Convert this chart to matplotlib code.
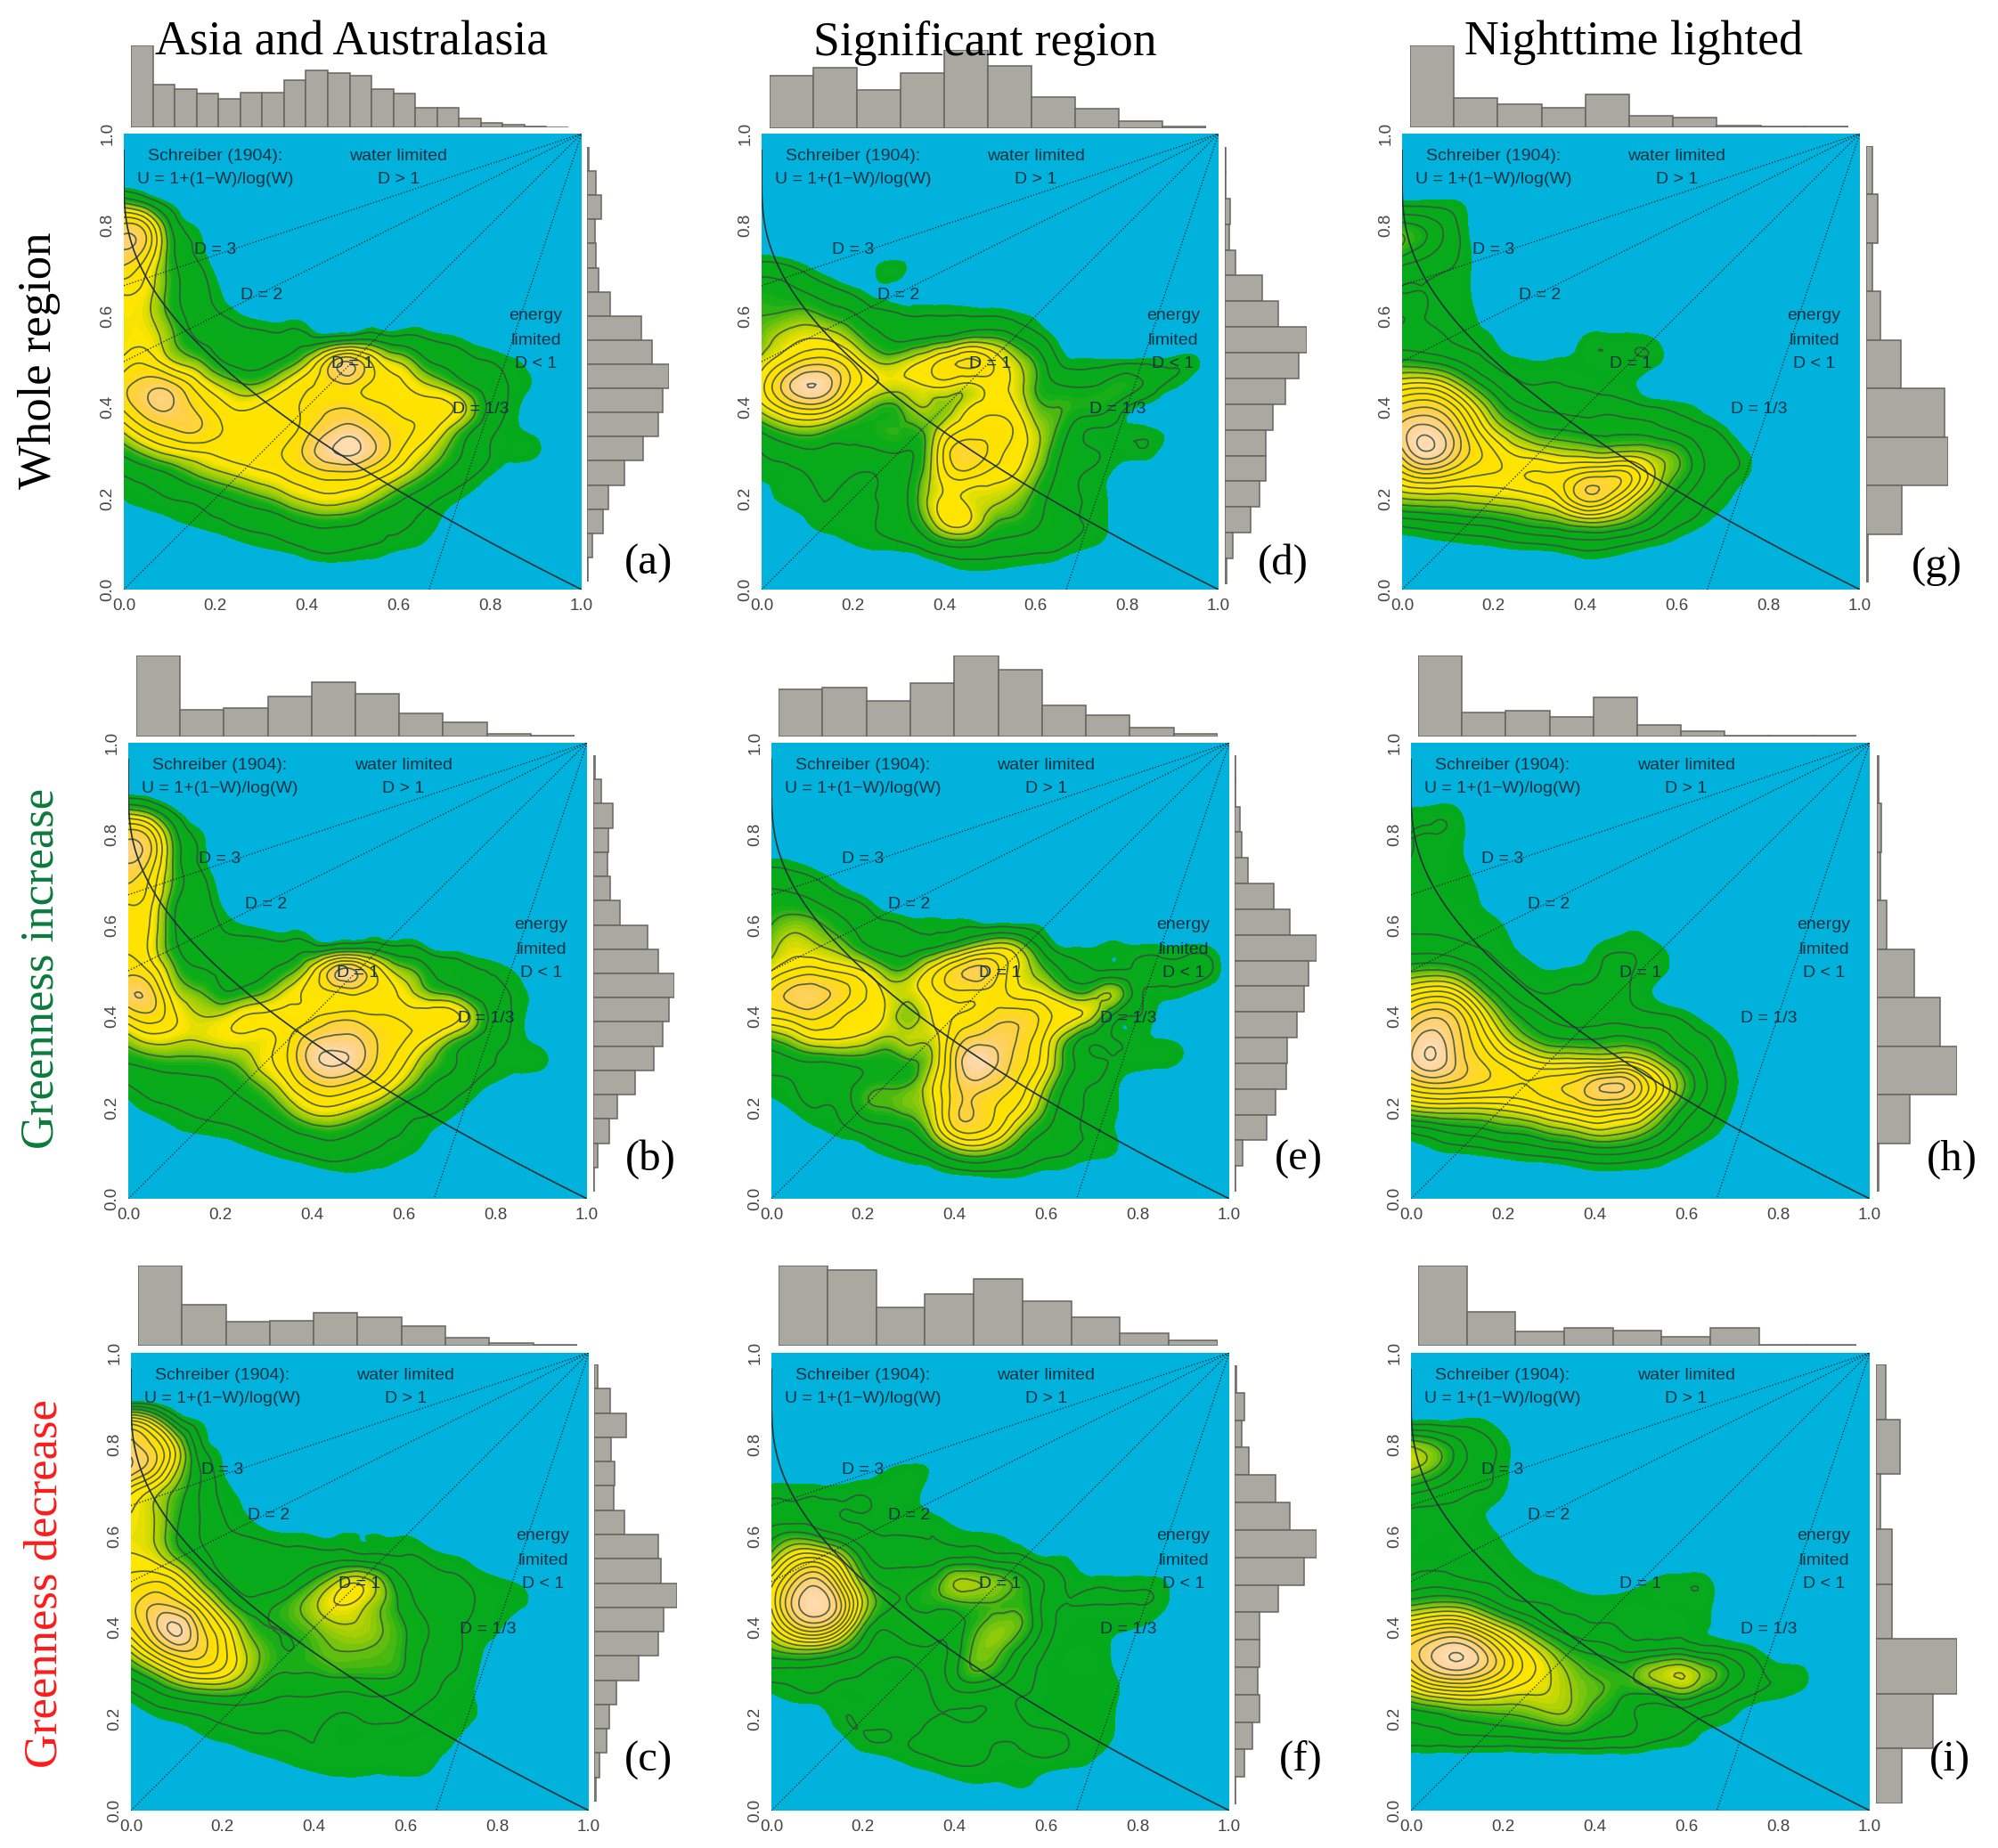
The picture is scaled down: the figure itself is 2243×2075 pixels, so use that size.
import numpy as np
import matplotlib
matplotlib.use("Agg")
import matplotlib.pyplot as plt
import matplotlib.tri as mtri
from matplotlib.colors import LinearSegmentedColormap

W, H = 2243, 2075

col_titles = ["Asia and Australasia", "Significant region", "Nighttime lighted"]
row_titles = ["Whole region", "Greenness increase", "Greenness decrease"]
row_colors = ["black", "#0b7a3b", "#ff1a1a"]
d_values = [3, 2, 1, 1 / 3]

# density, rows y=.90 down to .05, cols x=0 to .95 step .05
density = {}
density["a"] = [
[0]*20,
[30,18,5,0,0,0,0,0,0,0,0,0,0,0,0,0,0,0,0,0],
[78,65,22,6,0,0,0,0,0,0,0,0,0,0,0,0,0,0,0,0],
[88,72,28,10,2,0,0,0,0,0,0,0,0,0,0,0,0,0,0,0],
[72,55,28,14,5,0,0,0,0,0,0,0,0,0,0,0,0,0,0,0],
[55,48,28,16,8,2,0,0,0,0,0,0,0,0,0,0,0,0,0,0],
[50,46,30,18,12,7,4,4,4,3,3,3,3,2,0,0,0,0,0,0],
[48,50,36,22,18,14,13,13,14,14,18,18,13,11,8,5,2,0,0,0],
[58,62,46,36,24,18,18,24,40,72,84,58,42,26,18,12,10,7,3,0],
[72,82,80,62,44,34,34,48,62,70,74,62,56,46,36,22,14,9,5,0],
[68,84,88,76,62,52,56,62,68,74,74,68,62,60,58,42,18,8,2,0],
[46,64,74,78,68,62,62,60,72,86,92,80,70,62,46,26,12,7,4,0],
[24,36,46,52,56,60,62,66,80,96,100,86,66,48,32,18,10,8,7,0],
[10,14,20,30,38,44,50,56,64,70,70,60,46,32,20,12,6,2,0,0],
[6,8,10,12,18,24,30,38,46,50,46,36,24,15,9,5,1,0,0,0],
[2,3,5,7,9,12,14,18,24,26,24,16,12,9,5,1,0,0,0,0],
[0,0,0,1,3,5,7,9,12,14,12,10,8,6,2,0,0,0,0,0],
[0,0,0,0,0,0,0,0,3,4,4,3,0,0,0,0,0,0,0,0]]
density["d"] = [
[0]*20,
[0]*20,
[0]*20,
[2,1,0,0,0,0,0,0,0,0,0,0,0,0,0,0,0,0,0,0],
[16,14,8,3,0,6,8,0,0,0,0,0,0,0,0,0,0,0,0,0],
[26,24,20,14,9,5,3,0,0,0,0,0,0,0,0,0,0,0,0,0],
[30,32,34,28,22,14,11,10,10,10,10,8,5,0,0,0,0,0,0,0],
[34,44,50,48,36,24,18,20,24,32,32,24,14,5,2,1,1,0,0,0],
[44,60,74,74,58,40,40,50,64,72,62,44,28,10,7,7,8,8,8,7],
[56,84,100,92,66,50,46,50,54,48,54,48,30,20,18,22,26,16,8,2],
[46,64,74,66,44,30,30,40,36,48,56,52,34,30,26,24,10,4,0,0],
[22,32,36,30,24,26,28,30,48,62,66,60,42,28,12,9,8,7,3,0],
[10,14,18,18,18,18,20,26,62,78,68,56,42,22,12,9,8,8,0,0],
[7,8,10,14,10,10,14,30,56,64,56,50,34,18,10,7,2,0,0,0],
[1,8,9,10,8,10,14,34,52,48,44,38,26,15,10,7,0,0,0,0],
[0,0,6,9,9,10,14,28,52,52,34,28,22,14,10,7,0,0,0,0],
[0,0,1,3,6,8,9,13,22,24,18,16,14,12,8,5,0,0,0,0],
[0,0,0,0,0,0,0,2,5,7,7,6,5,3,0,0,0,0,0,0]]
density["g"] = [
[0]*20,
[7,7,7,4,0,0,0,0,0,0,0,0,0,0,0,0,0,0,0,0],
[26,22,14,5,0,0,0,0,0,0,0,0,0,0,0,0,0,0,0,0],
[30,22,14,6,0,0,0,0,0,0,0,0,0,0,0,0,0,0,0,0],
[14,12,10,6,0,0,0,0,0,0,0,0,0,0,0,0,0,0,0,0],
[10,10,9,6,0,0,0,0,0,0,0,0,0,0,0,0,0,0,0,0],
[10,10,9,7,2,0,0,0,0,0,0,0,0,0,0,0,0,0,0,0],
[12,12,10,8,6,1,0,1,7,8,8,6,0,0,0,0,0,0,0,0],
[26,24,20,14,9,7,6,7,8,9,9,8,1,0,0,0,0,0,0,0],
[52,54,46,30,18,11,10,10,9,8,7,2,0,0,0,0,0,0,0,0],
[76,80,72,52,32,20,16,15,14,14,12,10,8,5,0,0,0,0,0,0],
[90,98,88,66,46,34,26,24,22,22,22,20,16,12,8,0,0,0,0,0],
[84,100,90,72,60,50,46,42,40,38,40,36,30,18,12,7,0,0,0,0],
[62,70,66,60,58,58,60,62,70,72,66,46,30,18,11,7,0,0,0,0],
[38,40,40,42,44,46,50,60,76,70,52,34,20,12,8,2,0,0,0,0],
[14,16,18,20,22,26,30,34,40,38,30,20,12,8,3,0,0,0,0,0],
[3,4,5,6,7,9,10,12,14,13,10,7,4,0,0,0,0,0,0,0],
[0,0,0,0,0,0,0,0,3,3,2,0,0,0,0,0,0,0,0,0]]
density["b"] = [
[0]*20,
[36,26,8,0,0,0,0,0,0,0,0,0,0,0,0,0,0,0,0,0],
[82,68,26,8,0,0,0,0,0,0,0,0,0,0,0,0,0,0,0,0],
[90,74,30,10,0,0,0,0,0,0,0,0,0,0,0,0,0,0,0,0],
[78,62,30,14,3,0,0,0,0,0,0,0,0,0,0,0,0,0,0,0],
[66,56,24,14,6,0,0,0,0,0,0,0,0,0,0,0,0,0,0,0],
[62,52,22,14,10,6,4,4,4,4,4,4,3,0,0,0,0,0,0,0],
[64,50,24,18,14,14,14,14,15,18,20,16,12,7,4,2,0,0,0,0],
[72,62,34,22,20,18,20,28,50,84,84,56,36,24,16,11,9,5,0,0],
[84,80,46,34,24,26,34,48,58,62,66,60,50,36,30,18,12,8,3,0],
[64,72,56,44,44,54,56,58,62,70,70,66,62,62,60,40,16,8,2,0],
[38,48,46,44,48,50,50,64,84,90,88,74,66,54,36,22,12,8,3,0],
[22,26,28,28,30,36,50,66,92,100,92,72,56,36,24,14,10,9,8,0],
[10,14,16,18,20,26,36,54,72,78,70,58,40,24,16,10,5,2,0,0],
[4,8,10,12,14,18,24,36,50,52,44,32,18,13,9,4,0,0,0,0],
[0,2,5,7,8,10,14,20,26,28,22,14,10,7,3,0,0,0,0,0],
[0,0,0,0,2,4,6,9,12,14,11,9,7,4,0,0,0,0,0,0],
[0,0,0,0,0,0,0,0,2,4,5,4,2,0,0,0,0,0,0,0]]
density["e"] = [
[0]*20,
[0]*20,
[0]*20,
[5,4,1,0,0,0,0,0,0,0,0,0,0,0,0,0,0,0,0,0],
[16,14,10,4,0,0,0,0,0,0,0,0,0,0,0,0,0,0,0,0],
[24,24,20,14,9,2,0,0,0,0,0,0,0,0,0,0,0,0,0,0],
[30,36,32,24,16,12,9,8,8,8,8,7,4,0,0,0,0,0,0,0],
[36,46,42,36,24,18,16,20,30,44,50,36,14,6,6,7,7,7,7,7],
[50,62,64,58,50,34,34,54,74,84,68,46,30,16,11,11,12,12,12,12],
[72,84,84,76,62,48,44,56,66,66,64,54,48,34,34,38,14,8,7,3],
[62,68,72,62,56,48,36,50,60,66,76,76,64,54,42,16,10,4,0,0],
[30,40,50,50,46,38,42,44,70,84,86,76,56,30,14,10,8,6,4,0],
[14,18,20,22,24,24,28,40,78,100,88,72,52,24,12,9,8,8,5,0],
[8,10,12,14,24,28,30,48,76,86,78,64,40,18,10,7,2,0,0,0],
[4,7,10,12,26,30,34,46,76,78,68,54,30,14,9,7,0,0,0,0],
[0,2,5,8,12,16,20,38,68,72,58,34,20,12,9,6,0,0,0,0],
[0,0,0,2,4,7,10,16,30,36,28,18,12,10,8,6,0,0,0,0],
[0,0,0,0,0,0,1,3,5,6,7,6,4,3,0,0,0,0,0,0]]
density["h"] = [
[0]*20,
[7,8,7,0,0,0,0,0,0,0,0,0,0,0,0,0,0,0,0,0],
[10,10,8,2,0,0,0,0,0,0,0,0,0,0,0,0,0,0,0,0],
[10,9,7,3,0,0,0,0,0,0,0,0,0,0,0,0,0,0,0,0],
[9,9,7,5,0,0,0,0,0,0,0,0,0,0,0,0,0,0,0,0],
[9,9,8,6,2,0,0,0,0,0,0,0,0,0,0,0,0,0,0,0],
[9,9,9,8,6,1,0,0,0,3,4,0,0,0,0,0,0,0,0,0],
[14,14,12,10,8,4,1,1,6,9,9,6,0,0,0,0,0,0,0,0],
[30,32,28,18,11,8,6,7,9,12,9,7,0,0,0,0,0,0,0,0],
[56,62,56,36,20,12,10,11,12,12,8,4,0,0,0,0,0,0,0,0],
[78,86,78,56,34,22,16,14,14,14,12,11,8,3,0,0,0,0,0,0],
[90,98,84,66,48,34,26,24,24,26,24,20,14,10,4,0,0,0,0,0],
[92,100,86,74,64,56,50,50,50,52,48,34,22,13,7,0,0,0,0,0],
[72,78,76,72,68,66,70,74,84,88,74,52,30,16,8,1,0,0,0,0],
[42,46,46,46,48,52,58,64,70,68,60,40,22,13,6,0,0,0,0,0],
[12,16,20,22,26,28,34,38,44,42,36,24,14,9,3,0,0,0,0,0],
[3,5,6,7,9,11,13,15,18,18,15,11,6,2,0,0,0,0,0,0],
[0,0,0,0,0,0,0,2,4,4,4,3,0,0,0,0,0,0,0,0]]
density["c"] = [
[0]*20,
[60,44,16,6,0,0,0,0,0,0,0,0,0,0,0,0,0,0,0,0],
[84,72,44,12,4,0,0,0,0,0,0,0,0,0,0,0,0,0,0,0],
[90,74,44,18,6,0,0,0,0,0,0,0,0,0,0,0,0,0,0,0],
[62,48,32,18,8,4,0,0,0,0,0,0,0,0,0,0,0,0,0,0],
[50,42,28,18,10,6,1,0,0,0,0,0,0,0,0,0,0,0,0,0],
[48,42,26,18,12,10,8,7,6,6,6,6,6,3,1,0,0,0,0,0],
[52,48,34,22,15,12,12,12,14,16,15,13,11,9,7,4,1,0,0,0],
[62,66,58,36,20,14,13,18,28,42,48,34,18,12,11,9,7,5,1,0],
[70,82,78,60,36,22,24,30,40,50,46,34,22,14,12,10,8,7,2,0],
[66,86,100,78,56,34,26,28,34,40,40,34,26,18,12,9,7,1,0,0],
[44,66,82,78,62,42,30,26,30,34,34,32,26,16,11,8,3,0,0,0],
[22,34,50,58,54,40,28,26,26,28,28,28,24,14,10,7,1,0,0,0],
[8,14,20,24,26,24,20,18,18,16,17,18,15,11,8,6,0,0,0,0],
[2,5,7,9,11,12,12,12,12,9,10,11,10,8,8,6,0,0,0,0],
[0,0,1,4,6,8,9,9,10,8,8,8,8,9,7,0,0,0,0,0],
[0,0,0,0,0,2,4,6,8,9,9,8,9,8,1,0,0,0,0,0],
[0,0,0,0,0,0,0,0,1,2,2,2,2,1,0,0,0,0,0,0]]
density["f"] = [
[0]*20,
[0]*20,
[0]*20,
[0,0,0,0,2,5,7,5,0,0,0,0,0,0,0,0,0,0,0,0],
[8,8,8,8,9,9,9,3,0,0,0,0,0,0,0,0,0,0,0,0],
[12,12,12,10,10,9,8,6,2,0,0,0,0,0,0,0,0,0,0,0],
[22,28,24,18,12,10,10,10,8,7,6,3,0,0,0,0,0,0,0,0],
[36,56,60,44,22,14,14,14,18,18,14,12,7,6,0,0,0,0,0,0],
[56,80,90,66,34,22,22,26,38,38,34,26,16,9,8,8,8,7,1,0],
[60,90,100,82,44,26,24,26,28,30,30,28,14,10,10,10,10,8,1,0],
[48,72,80,62,30,18,22,20,20,30,36,30,14,8,7,7,6,3,0,0],
[30,36,36,28,18,12,14,16,20,34,32,20,10,8,8,5,0,0,0,0],
[14,14,14,12,10,8,8,12,22,30,24,14,8,8,8,6,0,0,0,0],
[5,8,9,8,8,9,9,10,14,14,12,10,8,7,7,7,0,0,0,0],
[0,0,1,9,9,9,8,10,10,10,12,10,8,8,7,6,0,0,0,0],
[0,0,0,3,9,10,10,12,14,12,10,11,12,10,8,5,0,0,0,0],
[0,0,0,0,1,3,6,8,10,10,8,8,8,7,5,0,0,0,0,0],
[0,0,0,0,0,0,0,2,4,5,5,6,3,0,0,0,0,0,0,0]]
density["i"] = [
[0]*20,
[7,7,7,7,3,0,0,0,0,0,0,0,0,0,0,0,0,0,0,0],
[36,30,20,12,8,1,0,0,0,0,0,0,0,0,0,0,0,0,0,0],
[40,32,20,12,8,1,0,0,0,0,0,0,0,0,0,0,0,0,0,0],
[20,16,12,10,7,0,0,0,0,0,0,0,0,0,0,0,0,0,0,0],
[9,9,9,7,3,0,0,0,0,0,0,0,0,0,0,0,0,0,0,0],
[8,8,8,8,5,0,0,0,0,0,0,0,0,0,0,0,0,0,0,0],
[8,8,8,8,8,4,0,0,0,0,0,0,0,0,0,0,0,0,0,0],
[12,14,12,10,9,8,7,4,2,3,5,8,9,7,0,0,0,0,0,0],
[30,34,34,26,16,11,10,9,8,8,8,8,8,7,0,0,0,0,0,0],
[62,70,72,60,44,30,18,13,11,10,9,9,8,6,2,0,0,0,0,0],
[82,94,100,90,70,52,38,26,22,18,16,18,18,14,11,7,2,0,0,0],
[68,84,90,84,70,56,46,36,30,28,34,42,44,34,22,13,9,8,0,0],
[38,46,50,50,46,44,44,38,32,26,22,24,28,20,13,9,7,4,0,0],
[18,20,24,26,28,30,34,34,26,22,16,14,12,9,6,1,0,0,0,0],
[12,12,13,13,13,14,15,16,15,14,12,9,7,2,0,0,0,0,0,0],
[0]*20,
[0]*20]

# spacing of the drawn contour lines in each panel
line_step = {"a": 11, "d": 10, "g": 7, "b": 11, "e": 10, "h": 7, "c": 8, "f": 7, "i": 7}

# histogram bars, bar heights read in zoomed pixels
top_hist = {
    "a": [205,108,95,84,72,87,88,118,142,135,130,95,84,48,50,23,12,6,2,1],
    "d": [132,152,96,139,197,157,79,50,19,4],
    "g": [205,73,58,48,82,30,24,4,3,3],
    "b": [210,69,74,105,141,110,61,37,6,3],
    "e": [123,128,93,138,210,173,81,56,23,8],
    "h": [210,63,68,51,101,31,14,2,2,2],
    "c": [208,106,63,65,86,73,52,20,6,2],
    "f": [208,196,100,135,174,116,75,32,13],
    "i": [208,87,38,46,39,24,46,3,2],
}
# listed from the top of the panel downwards
right_hist = {
    "a": [5,20,32,18,20,27,52,123,147,185,170,160,127,85,48,37,12,3],
    "d": [3,3,13,11,25,88,128,195,175,145,115,97,98,82,62,20,4],
    "g": [14,28,14,33,82,184,192,84,5],
    "b": [4,19,44,35,32,38,60,123,148,184,172,158,137,96,54,37,10,3],
    "e": [3,3,12,16,31,92,131,194,176,165,148,125,122,97,75,18,3],
    "h": [4,10,8,24,88,150,190,78,4],
    "c": [8,36,71,38,46,44,67,143,150,186,156,144,100,50,33,27,12,3],
    "f": [4,24,17,34,97,131,194,165,103,58,60,54,58,42,24,3],
    "i": [23,57,10,38,38,192,135,62],
}

# pixel boxes: left, right, top, bottom
main_box = {"a": (139,653,150,662), "d": (855,1368,150,662), "g": (1574,2088,150,662),
            "b": (144,659,834,1346), "e": (866,1380,834,1346), "h": (1584,2099,834,1346),
            "c": (147,661,1519,2033), "f": (866,1380,1519,2033), "i": (1584,2099,1519,2033)}
top_box = {"a": (147,638,51,143), "d": (864,1354,56,144), "g": (1583,2075,51,143),
           "b": (153,645,736,827), "e": (874,1367,736,827), "h": (1592,2084,736,827),
           "c": (155,648,1421,1511), "f": (874,1367,1421,1511), "i": (1592,2084,1421,1511)}
right_box = {"a": (659,751,165,653), "d": (1375,1467,165,656), "g": (2095,2187,164,654),
             "b": (666,757,848,1338), "e": (1386,1478,848,1338), "h": (2107,2197,848,1338),
             "c": (667,760,1532,2023), "f": (1386,1478,1533,2026), "i": (2106,2197,1532,2025)}
letter_pos = {"a": (728,633), "d": (1440,633), "g": (2174,637), "b": (730,1302), "e": (1458,1302),
              "h": (2191,1302), "c": (728,1977), "f": (1460,1976), "i": (2189,1977)}

BLUE = "#00b2dc"
cm = LinearSegmentedColormap.from_list("dens", [(0, "#05aa1c"), (0.2, "#0cab18"), (0.33, "#9ccc08"),
                                                (0.46, "#ffe600"), (0.66, "#ffe000"), (0.8, "#ffd045"),
                                                (0.95, "#ffd49a"), (1, "#ffdcb0")])
fill_levels = [-80] + list(range(6, 112, 2)) + [200]
fill_colors = [BLUE] + [cm(min(1.0, (v - 6) / 94.0)) for v in range(6, 112, 2)]

def axes_px(box):
    l, r, t, b = box
    return [l / W, 1 - b / H, (r - l) / W, (b - t) / H]

xg = np.arange(0, 21) * 0.05
yg = np.arange(0, 21) * 0.05
X, Y = np.meshgrid(xg, yg)
grid_tri = mtri.Triangulation(X.ravel(), Y.ravel())
refiner = mtri.UniformTriRefiner(grid_tri)

def full_grid(rows):
    z = np.zeros((21, 21))
    rows = np.array(rows, dtype=float)
    for i, row in enumerate(rows):
        z[18 - i, :20] = row
    return z

fig = plt.figure(figsize=(W / 100, H / 100), dpi=100)
plt.rcParams["font.family"] = ["Liberation Sans", "DejaVu Sans"]

w = np.logspace(-12, -0.0001, 500)
schreiber = 1 + (1 - w) / np.log(w)

for key in "adgbehcfi":
    ax = fig.add_axes(axes_px(main_box[key]))
    ax.set_facecolor(BLUE)
    tri2, z2 = refiner.refine_field(full_grid(density[key]).ravel(), subdiv=3)
    ax.tricontourf(tri2, z2, levels=fill_levels, colors=fill_colors, antialiased=False)
    ax.tricontour(tri2, z2, levels=np.arange(10, 104, line_step[key]), colors="#37503a", linewidths=1.25, alpha=0.85)
    for d in d_values:
        ax.plot([0, 1], [1 - 1 / d, 1], ls=":", lw=0.9, color="#123")
    ax.plot(w, schreiber, color="#1c3236", lw=1.2)
    ax.set_xlim(0, 1)
    ax.set_ylim(0, 1)
    ticks = [0, 0.2, 0.4, 0.6, 0.8, 1.0]
    ax.set_xticks(ticks)
    ax.set_yticks(ticks)
    ax.set_xticklabels(["%.1f" % t for t in ticks], fontsize=13.5, color="#444444")
    ax.set_yticklabels(["%.1f" % t for t in ticks], fontsize=13.5, color="#444444", rotation=90, va="center")
    ax.tick_params(length=0, pad=7)
    for s in ax.spines.values():
        s.set_visible(False)

    txt = dict(fontsize=14, color="#0a3344", ha="center", va="center")
    ax.text(0.2, 0.95, "Schreiber (1904):", **txt)
    ax.text(0.2, 0.90, "U = 1+(1\u2212W)/log(W)", **txt)
    ax.text(0.6, 0.95, "water limited", **txt)
    ax.text(0.6, 0.90, "D > 1", **txt)
    ax.text(0.2, 0.745, "D = 3", **txt)
    ax.text(0.3, 0.645, "D = 2", **txt)
    ax.text(0.5, 0.495, "D = 1", **txt)
    ax.text(0.78, 0.395, "D = 1/3", **txt)
    ax.text(0.9, 0.60, "energy", **txt)
    ax.text(0.9, 0.545, "limited", **txt)
    ax.text(0.9, 0.495, "D < 1", **txt)

    # top histogram
    axt = fig.add_axes(axes_px(top_box[key]))
    vals = top_hist[key]
    edges = np.linspace(0, 1, len(vals) + 1)
    axt.bar(edges[:-1], vals, width=np.diff(edges), align="edge", color="#a9a8a1", edgecolor="#66665f", lw=1.1)
    axt.set_xlim(0, 1)
    axt.set_ylim(0, max(vals))
    axt.axis("off")

    # right histogram
    axr = fig.add_axes(axes_px(right_box[key]))
    vals = right_hist[key]
    edges = np.linspace(0, 1, len(vals) + 1)
    axr.barh(edges[:-1], vals, height=np.diff(edges), align="edge", color="#a9a8a1", edgecolor="#66665f", lw=1.1)
    axr.set_ylim(1, 0)
    axr.set_xlim(0, max(vals))
    axr.axis("off")

    lx, ly = letter_pos[key]
    fig.text(lx / W, 1 - ly / H, "(%s)" % key, family="Liberation Serif", fontsize=35, ha="center", va="center")

for name, cx in zip(col_titles, [395, 1106, 1834]):
    fig.text(cx / W, 1 - 48 / H, name, family="Liberation Serif", fontsize=38.6, ha="center", va="center")
for name, c, px, py in zip(row_titles, row_colors, [44, 47, 51], [405, 1087, 1778]):
    fig.text(px / W, 1 - py / H, name, family="Liberation Serif", fontsize=38, color=c,
             rotation=90, ha="center", va="center")

fig.savefig("out.png", dpi=100, facecolor="white")
